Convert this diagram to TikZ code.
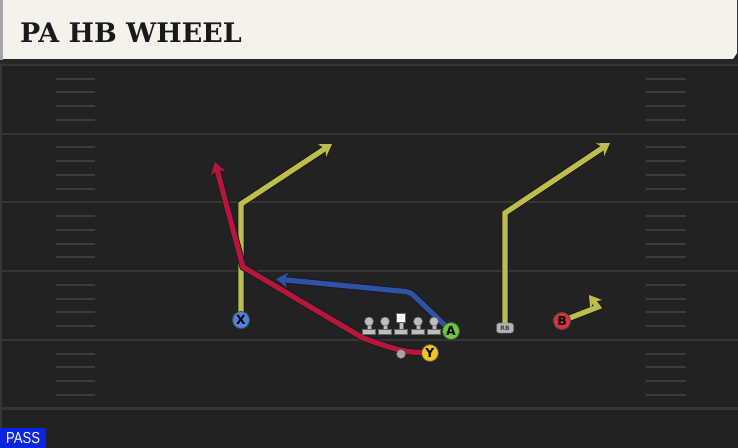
\documentclass[tikz,border=0pt]{standalone}
\usepackage{fontspec}
\setmainfont{DejaVu Sans}
\newfontfamily\titlefont{DejaVu Serif}
\newfontfamily\passfont[FakeStretch=0.82]{Liberation Sans}
\usetikzlibrary{arrows.meta}
\definecolor{fieldgray}{HTML}{222222}
\definecolor{yardline}{HTML}{363636}
\definecolor{hashline}{HTML}{3C3C3C}
\definecolor{headcream}{HTML}{F5F2EB}
\definecolor{routeyellow}{HTML}{BDBD4C}
\definecolor{routered}{HTML}{B5163B}
\definecolor{routeblue}{HTML}{2D52A6}
\definecolor{fillx}{HTML}{4A86DF}
\definecolor{filla}{HTML}{6BCB3A}
\definecolor{filly}{HTML}{F2C21E}
\definecolor{fillb}{HTML}{E0303F}
\definecolor{passblue}{HTML}{0A24E0}
\definecolor{linegray}{HTML}{BDBDBD}
\pgfdeclarelayer{field}
\pgfdeclarelayer{routes}
\pgfsetlayers{field,routes,main}
\tikzset{
  routeedge/.style={draw=black!90,line width=7bp,line join=miter},
  route/.style={line width=5.2bp,line join=miter},
  tipedge/.style={-{Stealth[length=13.5bp,width=17bp,inset=4.5bp]}},
  tip/.style={-{Stealth[length=12bp,width=15bp,inset=4bp]}},
  player/.style={circle,draw=black!70,line width=0.8bp,minimum size=17bp,inner sep=0pt,
    font=\bfseries\fontsize{12.5}{12.5}\selectfont},
  blocker/.style={linegray,draw=black!60,line width=0.5bp},
}
\begin{document}
\begin{tikzpicture}[x=1bp,y=-1bp,>=latex,line join=bevel]
\useasboundingbox (0,0) rectangle (738,448);
%% field
\begin{pgfonlayer}{field}
  \fill[fieldgray] (0,0) rectangle (738,448);
  \fill[yardline] (0,60) rectangle (2,448);
  \foreach \yy in {65,133.7,202.4,271.1,339.8,408.5}
    \draw[yardline,line width=2.2bp] (0,\yy) -- (738,\yy);
  \foreach \yy in {65,133.7,202.4,271.1,339.8}
    \foreach \k in {1,...,4} {
      \draw[hashline,line width=2bp] (56,\yy+\k*13.74) -- (95,\yy+\k*13.74);
      \draw[hashline,line width=2bp] (646,\yy+\k*13.74) -- (686,\yy+\k*13.74);
    }
  % header
  \fill[black!85] (0,58) rectangle (738,64);
  \fill[gray!70] (0,0) rectangle (3,60);
  \fill[headcream] (3,0) -- (737,0) -- (737,53) -- (733,59) -- (3,59) -- cycle;
\end{pgfonlayer}
\node (node_title) at (20,32.5) [anchor=west,inner sep=0pt,text=black!90]
  {\titlefont\bfseries\fontsize{27}{27}\selectfont PA HB WHEEL};
%% players
\node (node_x) at (241,320) [player,fill=fillx] {X};
\node (node_a) at (451,331) [player,fill=filla] {A};
\node (node_y) at (430,353) [player,fill=filly] {Y};
\node (node_b) at (562,321) [player,fill=fillb] {B};
\node (node_rb) at (505,328) [rounded corners=2.5bp,fill=gray!60,draw=black!60,minimum width=17bp,
  minimum height=10bp,inner sep=0pt,font=\bfseries\fontsize{6}{6}\selectfont,text=black!75] {RB};
\node (node_qb) at (401,354) [circle,fill=gray!70,draw=black!60,minimum size=9bp,inner sep=0pt] {};
% line
\foreach \lx in {369,385,418,434} {
  \fill[blocker] (\lx-2,321) rectangle (\lx+2,330);
  \fill[blocker] (\lx,321.5) circle (4.5);
  \fill[blocker] (\lx-6.5,329) rectangle (\lx+6.5,334);
}
\fill[blocker] (399,321) rectangle (403,330);
\fill[white,draw=black!60,line width=0.5bp] (396.5,313) rectangle (405.5,322.5);
\fill[blocker] (394.5,329) rectangle (407.5,334);
%% routes
\begin{pgfonlayer}{routes}
  \draw [routeedge,tipedge] (node_x.center) -- (241,204) -- (332,144);
  \draw [route,tip,routeyellow] (node_x.center) -- (241,204) -- (332,144);
  \draw [routeedge,tipedge] (node_rb.center) -- (505,213) -- (610,143);
  \draw [route,tip,routeyellow] (node_rb.center) -- (505,213) -- (610,143);
  \draw [routeedge,tipedge] (node_b.center) -- (598,307) -- (589,295);
  \draw [route,tip,routeyellow] (node_b.center) -- (598,307) -- (589,295);
  \draw [routeedge,tipedge] (node_y.center) -- (412,352) .. controls (395,350) and (380,344) .. (363,338) -- (243,267) -- (215,162);
  \draw [route,tip,routered] (node_y.center) -- (412,352) .. controls (395,350) and (380,344) .. (363,338) -- (243,267) -- (215,162);
  \draw [routeedge,tipedge,rounded corners=4bp] (node_a.center) -- (410,292) -- (276,279);
  \draw [route,tip,routeblue,rounded corners=4bp] (node_a.center) -- (410,292) -- (276,279);
\end{pgfonlayer}
%
\node (node_pass) at (0,448) [anchor=south west,fill=passblue,minimum width=46bp,minimum height=20bp,
  inner sep=0pt,text=white,font=\passfont\fontsize{16}{16}\selectfont] {PASS};
\end{tikzpicture}
\end{document}
